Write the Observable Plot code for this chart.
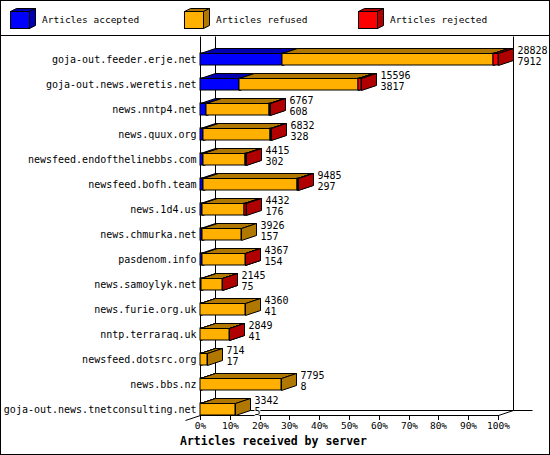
<!DOCTYPE html>
<html><head><meta charset="utf-8">
<script src="https://cdn.jsdelivr.net/npm/d3@7"></script>
<script src="https://cdn.jsdelivr.net/npm/@observablehq/plot@0.6"></script>
<style>
html,body{margin:0;padding:0;background:#fff;}
#wrap{position:relative;width:550px;height:455px;overflow:hidden;background:#fff;font-family:"DejaVu Sans Mono",monospace;}
#frame{position:absolute;left:0;top:0;width:550px;height:455px;box-sizing:border-box;border:1px solid #000;pointer-events:none;z-index:5;}
#legend{position:absolute;left:0;top:0;line-height:0;}
#chart{position:absolute;left:0;top:36px;line-height:0;}
#title{position:absolute;left:180px;top:435px;font:bold 11.5px "DejaVu Sans Mono",monospace;line-height:13px;white-space:nowrap;}
</style></head><body>
<div id="wrap"><div id="legend"></div><div id="chart"></div><div id="title"></div><div id="frame"></div></div>
<script>
const servers = ["goja-out.feeder.erje.net","goja-out.news.weretis.net","news.nntp4.net","news.quux.org","newsfeed.endofthelinebbs.com","newsfeed.bofh.team","news.1d4.us","news.chmurka.net","pasdenom.info","news.samoylyk.net","news.furie.org.uk","nntp.terraraq.uk","newsfeed.dotsrc.org","news.bbs.nz","goja-out.news.tnetconsulting.net"];
const offered  = [28828,15596,6767,6832,4415,9485,4432,3926,4367,2145,4360,2849,714,7795,3342];
const accepted = [7912,3817,608,328,302,297,176,157,154,75,41,41,17,8,5];
const refused  = [20466,11479,6099,6464,4083,9068,4106,3769,4193,2050,4319,2793,697,7787,3337];
const rejected = [450,300,60,40,30,120,150,0,20,20,0,15,0,0,0];
const seriesNames = ["Articles accepted","Articles refused","Articles rejected"];
const frontColors = ["#0000ff","#ffb000","#ff0000"];
const depthColors = ["#0000b0","#b07800","#b00000"];
const xTicks = [0,10,20,30,40,50,60,70,80,90,100];
const xTitle = "Articles received by server";

const DX = 15, DY = 5;
const maxOffered = d3.max(offered);
const seriesValues = [accepted, refused, rejected];
const segments = seriesValues.map((vals, s) => servers.map((name, i) => {
  let start = 0;
  for (let k = 0; k < s; k++) start += seriesValues[k][i];
  return {name, s, value: vals[i], x1: start / maxOffered * 100, x2: (start + vals[i]) / maxOffered * 100};
}).filter(d => d.value > 0));

function depthFaces(segs, s) {
  return (index, scales) => {
    const {x, y} = scales;
    const bw = y.bandwidth();
    const g = d3.create("svg:g").attr("transform", "translate(0.5,0.5)")
      .attr("stroke", "black").attr("stroke-width", 1).attr("fill", depthColors[s]);
    for (const d of segs) {
      const a = x(d.x1), b = x(d.x2), t = y(d.name), bot = t + bw;
      g.append("polygon").attr("points", [[a,t],[b,t],[b+DX,t-DY],[a+DX,t-DY]].join(" "));
      g.append("polygon").attr("points", [[b,t],[b+DX,t-DY],[b+DX,bot-DY],[b,bot]].join(" "));
    }
    return g.node();
  };
}

const frame3d = (index, scales) => {
  const {x, y} = scales;
  const x0 = x(0), x1 = x(100);
  const floor = y(servers[servers.length - 1]) + y.bandwidth();
  const g = d3.create("svg:g").attr("transform", "translate(0.5,0.5)").attr("stroke", "black").attr("fill", "none");
  const L = (a, b, c, d) => g.append("line").attr("x1", a).attr("y1", b).attr("x2", c).attr("y2", d);
  L(x0, 0, x0, floor);
  L(x0 + DX, 0, x0 + DX, floor - DY);
  L(x1 + DX, 0, x1 + DX, floor - DY);
  L(x0, floor, x1, floor);
  L(x1, floor, x1 + DX, floor - DY);
  L(x0 + DX, floor - DY, x1 + DX + 19, floor - DY);
  L(x0 - DX, floor + DY, x0, floor);
  return g.node();
};

const marks = [frame3d];
segments.forEach((segs, s) => {
  marks.push(Plot.barX(segs, {x1: "x1", x2: "x2", y: "name", fill: frontColors[s], stroke: "black", strokeWidth: 1}));
  marks.push(depthFaces(segs, s));
});
marks.push(Plot.text(servers, {x: (d, i) => offered[i] / maxOffered * 100, y: d => d, text: (d, i) => String(offered[i]),
  dx: DX + 4, dy: -9, textAnchor: "start", fontSize: 10, fill: "black", stroke: "white", strokeWidth: 2}));
marks.push(Plot.text(servers, {x: (d, i) => offered[i] / maxOffered * 100, y: d => d, text: (d, i) => String(accepted[i]),
  dx: DX + 4, dy: 2, textAnchor: "start", fontSize: 10, fill: "black", stroke: "white", strokeWidth: 2}));
marks.push(Plot.axisX({ticks: xTicks, tickFormat: d => d + "%", tickSize: 5, tickPadding: 2, fontSize: 9.5, label: null}));
marks.push(Plot.axisY({anchor: "left", tickSize: 0, tickPadding: 4, fontSize: 10, label: null}));

const chart = Plot.plot({
  width: 550, height: 418,
  marginLeft: 200, marginRight: 52, marginTop: 10, marginBottom: 39,
  style: {fontFamily: "'DejaVu Sans Mono', monospace", fontSize: "10px", background: "transparent", color: "black"},
  x: {domain: [0, 100], round: true},
  y: {domain: servers, range: [10.5, 385.5], paddingInner: 0.52, paddingOuter: 0.26},
  marks
});
document.getElementById("chart").appendChild(chart);

// legend
const leg = d3.select("#legend").append("svg").attr("width", 550).attr("height", 36);
leg.append("line").attr("x1", 0).attr("x2", 550).attr("y1", 35.5).attr("y2", 35.5).attr("stroke", "black");
const legX = [10, 184, 358];
seriesNames.forEach((name, s) => {
  const x0 = legX[s], x1 = x0 + 19, t = 11, b = 28, dx = 6, dy = 3;
  const g = leg.append("g").attr("transform", "translate(0.5,0.5)").attr("stroke", "black");
  g.append("rect").attr("x", x0).attr("y", t).attr("width", 19).attr("height", 17).attr("fill", frontColors[s]);
  g.append("polygon").attr("points", [[x0,t],[x1,t],[x1+dx,t-dy],[x0+dx,t-dy]].join(" ")).attr("fill", depthColors[s]);
  g.append("polygon").attr("points", [[x1,t],[x1+dx,t-dy],[x1+dx,b-dy],[x1,b]].join(" ")).attr("fill", depthColors[s]);
  leg.append("text").attr("x", x0 + 32).attr("y", 20).attr("dy", "0.35em")
    .attr("font-family", "'DejaVu Sans Mono', monospace").attr("font-size", 9.5).text(name);
});
document.getElementById("title").textContent = xTitle;
</script>
</body></html>
